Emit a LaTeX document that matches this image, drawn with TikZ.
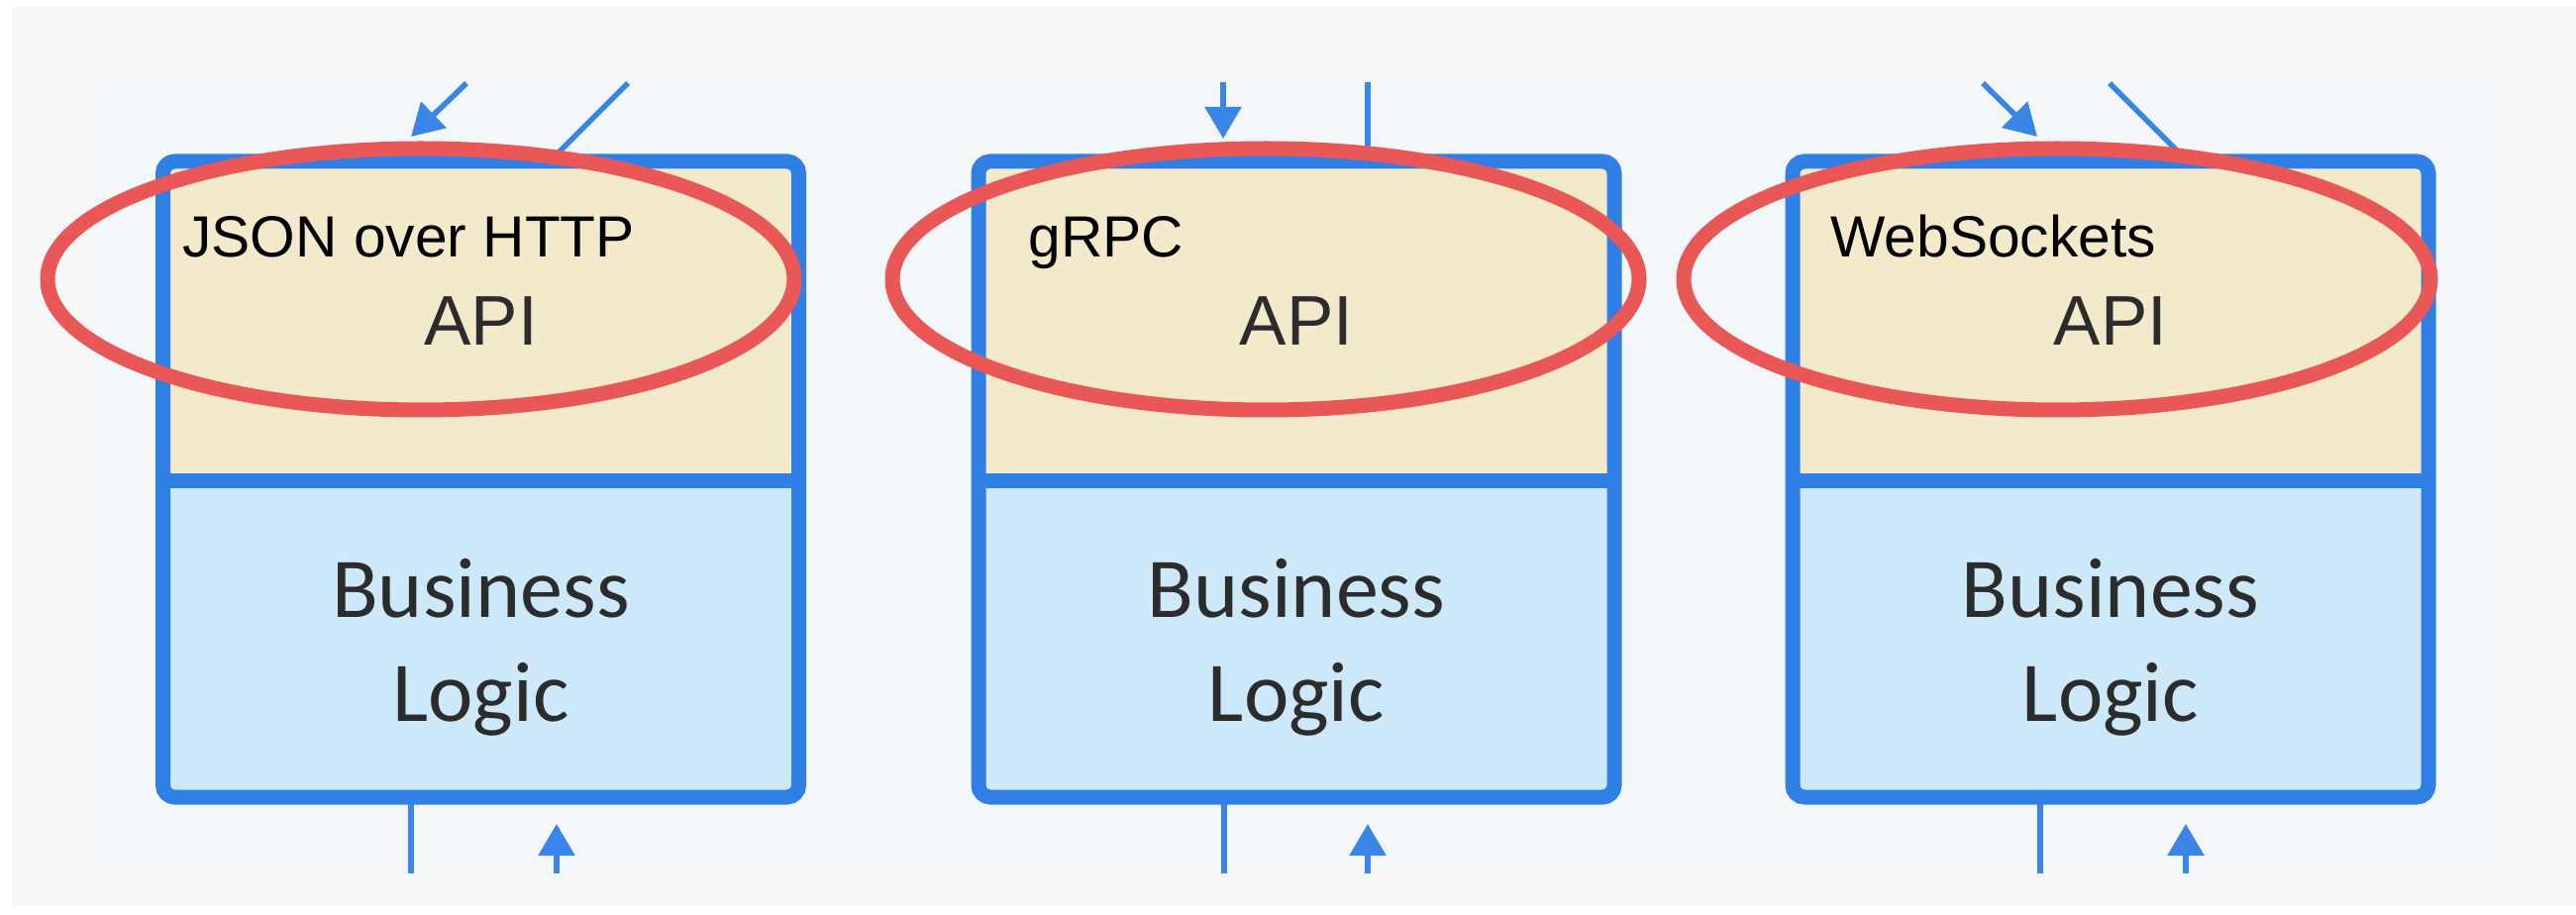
\documentclass[tikz,border=0pt]{standalone}
\usepackage{fontspec}
\setmainfont{Liberation Sans}
\newfontfamily\bizfont{Carlito}
\usetikzlibrary{arrows.meta,shapes.geometric}

\definecolor{pagegray}{HTML}{F7F7F7}
\definecolor{panelbg}{HTML}{F3F7F9}
\definecolor{apifill}{HTML}{F3EACB}
\definecolor{logicfill}{HTML}{CDE9F9}
\definecolor{frameblue}{HTML}{2F7FE4}
\definecolor{wireblue}{HTML}{3A86E8}
\definecolor{markred}{HTML}{E95757}
\definecolor{textgray}{HTML}{2C2C2C}

\tikzset{
  apipart/.style={rectangle, fill=apifill, inner sep=0pt, outer sep=0pt,
    minimum width=321pt, minimum height=161.5pt, text=textgray,
    font=\fontsize{35.5pt}{40pt}\selectfont},
  logicpart/.style={rectangle, fill=logicfill, inner sep=0pt, outer sep=0pt,
    minimum width=321pt, minimum height=159.5pt},
  frame/.style={draw=frameblue, line width=7.5pt, rounded corners=6pt},
  divider/.style={draw=frameblue, line width=7.5pt},
  proto/.style={anchor=base west, inner sep=0pt, text=black,
    font=\fontsize{29.35pt}{35pt}\selectfont},
  bltext/.style={anchor=base, inner sep=0pt, align=center, text=textgray,
    font=\bizfont\fontsize{43pt}{52.5pt}\selectfont},
  wire/.style={draw=wireblue, line width=2.8pt},
  inarrow/.style={wire, -{Triangle[length=16pt,width=18pt]}},
  highlight/.style={ellipse, draw=markred, line width=7.5pt, inner sep=0pt,
    minimum width=377pt, minimum height=132pt}
}

\begin{document}
\begin{tikzpicture}[x=0.5pt,y=-0.5pt]
  \useasboundingbox (0,0) rectangle (2601,924);
  % backdrop
  \fill[white] (0,0) rectangle (2601,924);
  \fill[pagegray] (12,7) rectangle (2601,915);
  \fill[panelbg] (95,81) rectangle (2522,883);

  % service 1: JSON over HTTP
  \node[apipart] (api1) at (485.5,324.5) {API};
  \node[logicpart] (logic1) at (485.5,645.5) {};
  \draw[frame] (api1.north west) rectangle (logic1.south east);
  \draw[divider] (api1.south west) -- (api1.south east);
  \node[proto] (p1) at (184,260) {JSON over HTTP};
  \node[bltext] (bl1) at (485.5,728) {Business\\Logic};

  % service 2: gRPC
  \node[apipart] (api2) at (1309,324.5) {API};
  \node[logicpart] (logic2) at (1309,645.5) {};
  \draw[frame] (api2.north west) rectangle (logic2.south east);
  \draw[divider] (api2.south west) -- (api2.south east);
  \node[proto] (p2) at (1038,260) {gRPC};
  \node[bltext] (bl2) at (1309,728) {Business\\Logic};

  % service 3: WebSockets
  \node[apipart] (api3) at (2131,324.5) {API};
  \node[logicpart] (logic3) at (2131,645.5) {};
  \draw[frame] (api3.north west) rectangle (logic3.south east);
  \draw[divider] (api3.south west) -- (api3.south east);
  \node[proto] (p3) at (1848,260) {WebSockets};
  \node[bltext] (bl3) at (2131,728) {Business\\Logic};

  % connector ends
  \coordinate (t1a) at (471,84);   \coordinate (t1b) at (415,138);
  \coordinate (t1c) at (634,84);   \coordinate (t1d) at (562,156);
  \coordinate (t2a) at (1235,83);  \coordinate (t2b) at (1235,140);
  \coordinate (t2c) at (1381,83);  \coordinate (t2d) at (1381,156);
  \coordinate (t3a) at (2002,84);  \coordinate (t3b) at (2057,138);
  \coordinate (t3c) at (2130,84);  \coordinate (t3d) at (2202,156);
  \coordinate (b1a) at (415,812);  \coordinate (b1b) at (415,882);
  \coordinate (b1c) at (562,882);  \coordinate (b1d) at (562,832);
  \coordinate (b2a) at (1236,812); \coordinate (b2b) at (1236,882);
  \coordinate (b2c) at (1381,882); \coordinate (b2d) at (1381,832);
  \coordinate (b3a) at (2060,812); \coordinate (b3b) at (2060,882);
  \coordinate (b3c) at (2207,882); \coordinate (b3d) at (2207,832);

  % incoming and outgoing traffic
  \draw[inarrow] (t1a) -- (t1b);
  \draw[wire] (t1c) -- (t1d);
  \draw[inarrow] (t2a) -- (t2b);
  \draw[wire] (t2c) -- (t2d);
  \draw[inarrow] (t3a) -- (t3b);
  \draw[wire] (t3c) -- (t3d);
  \draw[wire] (b1a) -- (b1b);
  \draw[inarrow] (b1c) -- (b1d);
  \draw[wire] (b2a) -- (b2b);
  \draw[inarrow] (b2c) -- (b2d);
  \draw[wire] (b3a) -- (b3b);
  \draw[inarrow] (b3c) -- (b3d);

  % red marks round the API layers
  \node[highlight] (hl1) at (425,282) {};
  \node[highlight] (hl2) at (1278,282) {};
  \node[highlight] (hl3) at (2077,282) {};
\end{tikzpicture}
\end{document}
